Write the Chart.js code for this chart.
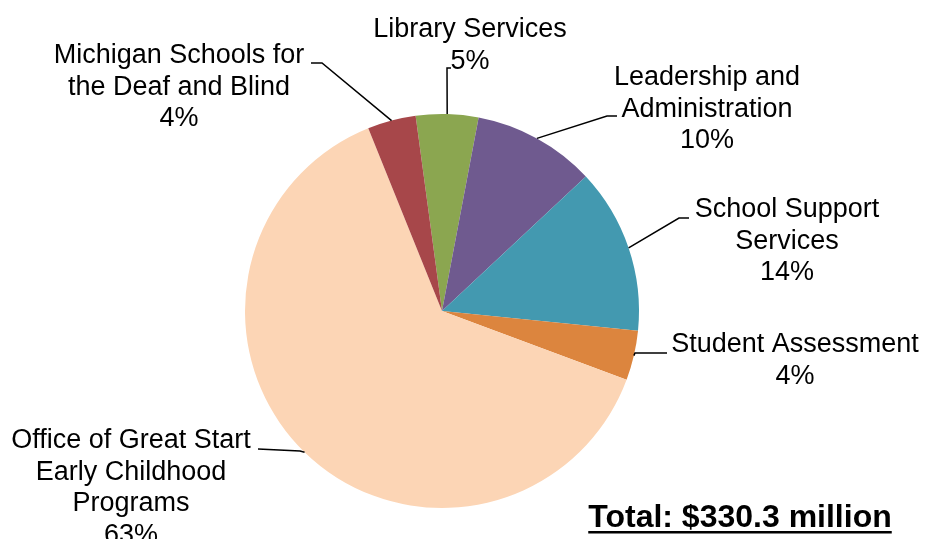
<!DOCTYPE html>
<html>
<head>
<meta charset="utf-8">
<script src="https://cdn.jsdelivr.net/npm/chart.js@4"></script>
<style>
  html, body { margin: 0; padding: 0; background: #fff; }
  #wrap { width: 925px; height: 539px; }
</style>
</head>
<body>
<div id="wrap"><canvas id="pieChart" width="925" height="539"></canvas></div>
<script>
// data (millions of dollars), clockwise from the top
const categories = [
  ['Library Services'],
  ['Leadership and', 'Administration'],
  ['School Support', 'Services'],
  ['Student Assessment'],
  ['Office of Great Start', 'Early Childhood', 'Programs'],
  ['Michigan Schools for', 'the Deaf and Blind']
];
const amounts = [16.9, 33.2, 44.8, 13.5, 208.8, 13.1];
const sliceColors = ['#8BA650', '#6F5A8F', '#4399B0', '#DC853E', '#FCD5B5', '#A7474A'];
const totalText = 'Total: $330.3 million';

// where each data label sits: text centre x, first baseline, leader elbow and end
const labelLayout = [
  { x: 470, y: 37,  elbow: [447, 68],  end: [451, 68] },
  { x: 707, y: 85,  elbow: [607, 116], end: [617, 116] },
  { x: 787, y: 217, elbow: [679, 218], end: [689, 218] },
  { x: 795, y: 352, elbow: [635, 353], end: [667, 353] },
  { x: 131, y: 448, elbow: [300, 451], end: [258, 449] },
  { x: 179, y: 63,  elbow: [322, 63],  end: [311, 63] }
];
const lineGap = 31.5;

const pieLabels = {
  id: 'pieLabels',
  afterDraw(chart) {
    const ctx = chart.ctx;
    const meta = chart.getDatasetMeta(0);
    const total = amounts.reduce((a, b) => a + b, 0);
    ctx.save();
    meta.data.forEach((arc, i) => {
      const p = arc.getProps(['x', 'y', 'startAngle', 'endAngle', 'outerRadius'], true);
      const mid = (p.startAngle + p.endAngle) / 2;
      const ax = p.x + Math.cos(mid) * p.outerRadius;
      const ay = p.y + Math.sin(mid) * p.outerRadius;
      const lay = labelLayout[i];
      ctx.strokeStyle = '#000';
      ctx.lineWidth = 1.5;
      ctx.beginPath();
      ctx.moveTo(ax, ay);
      ctx.lineTo(lay.elbow[0], lay.elbow[1]);
      ctx.lineTo(lay.end[0], lay.end[1]);
      ctx.stroke();

      const lines = categories[i].concat([Math.round(amounts[i] / total * 100) + '%']);
      ctx.fillStyle = '#000';
      ctx.font = '27px "Liberation Sans", Arial, sans-serif';
      ctx.textAlign = 'center';
      ctx.textBaseline = 'alphabetic';
      lines.forEach((t, k) => ctx.fillText(t, lay.x, lay.y + k * lineGap));
    });

    // total, bold and underlined
    ctx.font = 'bold 32px "Liberation Sans", Arial, sans-serif';
    ctx.textAlign = 'center';
    const tx = 740, ty = 527;
    ctx.fillText(totalText, tx, ty);
    const w = ctx.measureText(totalText).width;
    ctx.fillRect(tx - w / 2, ty + 4, w, 2.5);
    ctx.restore();
  }
};

new Chart(document.getElementById('pieChart'), {
  type: 'pie',
  data: {
    labels: categories,
    datasets: [{
      data: amounts,
      backgroundColor: sliceColors,
      borderWidth: 0
    }]
  },
  options: {
    responsive: false,
    animation: false,
    rotation: -7.7,
    layout: { padding: { left: 244, right: 285, top: 114, bottom: 31 } },
    plugins: { legend: { display: false }, tooltip: { enabled: false } }
  },
  plugins: [pieLabels]
});
</script>
</body>
</html>
